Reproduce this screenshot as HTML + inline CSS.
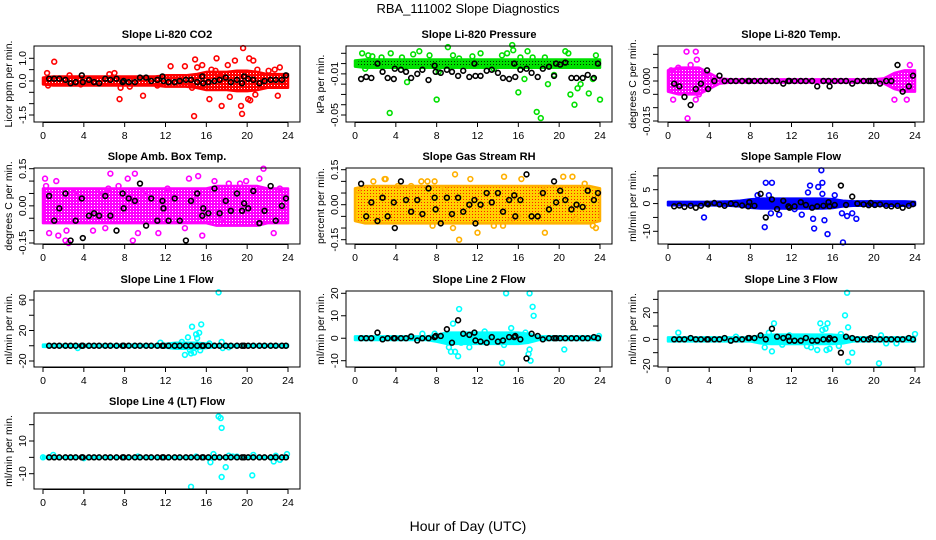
<!DOCTYPE html>
<html><head><meta charset="utf-8"><title>RBA_111002 Slope Diagnostics</title>
<style>html,body{margin:0;padding:0;background:#fff}svg{display:block;font-family:"Liberation Sans",Arial,sans-serif}</style>
</head><body>
<svg id="chart" width="936" height="540" viewBox="0 0 936 540">
<defs>
<pattern id="pt-red" width="3" height="3" patternUnits="userSpaceOnUse"><rect width="3" height="3" fill="#ff0000"/><rect x="1" y="1" width="1" height="1" fill="#ffffff"/></pattern>
<pattern id="pt-green" width="3" height="3" patternUnits="userSpaceOnUse"><rect width="3" height="3" fill="#00e000"/><rect x="1" y="1" width="1" height="1" fill="#003300"/></pattern>
<pattern id="pt-mag" width="3" height="3" patternUnits="userSpaceOnUse"><rect width="3" height="3" fill="#ff00ff"/><rect x="1" y="1" width="1" height="1" fill="#ffffff"/></pattern>
<pattern id="pt-rh" width="3" height="3" patternUnits="userSpaceOnUse"><rect width="3" height="3" fill="#ffd000"/><rect x="1" y="1" width="1" height="1" fill="#ff2000"/></pattern>
<pattern id="pt-blue" width="3" height="3" patternUnits="userSpaceOnUse"><rect width="3" height="3" fill="#0000ff"/></pattern>
<pattern id="pt-cyan" width="3" height="3" patternUnits="userSpaceOnUse"><rect width="3" height="3" fill="#00ffff"/></pattern>
</defs>
<text x="468" y="13" text-anchor="middle" font-size="13">RBA_111002  Slope Diagnostics</text>
<text x="468" y="531" text-anchor="middle" font-size="14">Hour of Day (UTC)</text>
</svg>
<script>
// shared hour positions of black (reference) points
const blackHours=[0.6,1.1,1.6,2.2,2.7,3.2,3.8,3.9,4.5,5.0,5.5,6.1,6.6,7.2,7.8,7.9,8.4,9.0,9.5,10.1,10.6,11.2,11.7,11.8,12.3,12.9,13.4,14.0,14.5,15.1,15.6,15.7,16.2,16.8,17.3,17.9,18.4,19.0,19.5,19.7,20.1,20.6,21.2,21.7,22.3,22.8,23.4,23.8];
const xTicks=[0,4,8,12,16,20,24];

// Panel 1 CO2
const co2Band=[0.15,0.2,0.2,0.2,0.2,0.2,0.2,0.2,0.2,0.2,0.2,0.2,0.25,0.25,0.25,0.3,0.4,0.4,0.4,0.45,0.45,0.4,0.3,0.3,0.3];
const co2OutX=[1.1,0.4,0.5,2.6,3.7,6.5,7.0,7.6,7.5,8.5,9.8,11.2,12.5,13.9,14.9,14.8,15.1,15.6,14.6,16.5,16.3,17.0,17.5,17.2,18.1,18.3,19.4,19.6,19.5,20.1,20.3,20.2,20.6,20.8,21.0,22.1,22.7,23.0,23.2,18.8,16.9];
const co2OutY=[0.85,0.35,-0.2,0.25,-0.15,0.3,0.35,-0.3,-0.8,-0.25,-0.65,-0.2,0.65,0.65,0.95,-1.55,0.6,0.7,-0.3,0.5,-0.8,1.0,-1.1,0.3,0.7,-0.7,-1.1,1.45,-1.45,-0.8,-0.85,1.0,0.9,-0.6,0.5,0.45,0.5,-0.65,0.6,0.9,0.45];
const co2Black=[0.1,0.1,0.1,0.05,-0.1,-0.05,0.25,-0.05,0.05,-0.05,-0.1,0.1,0.05,0.1,-0.05,0,-0.05,-0.05,0.15,0.15,0,0.05,0.2,0,-0.05,-0.05,0,0.05,0.05,-0.05,0.2,-0.1,-0.05,0,0.05,0.15,-0.05,0.05,-0.1,0.2,0.1,0.05,-0.1,0,0.05,0.05,0.05,0.25];
const co2Ticks=[1,0.5,0,-0.5,-1,-1.5];
const co2Labels=["1.0","","0.0","","","-1.5"];

// Panel 2 Pressure
const presBand=[0.003,0.004,0.004,0.004,0.004,0.004,0.004,0.004,0.004,0.004,0.004,0.004,0.004,0.004,0.004,0.004,0.004,0.004,0.004,0.004,0.004,0.004,0.004,0.004,0.004];
const presOutX=[0.7,1.0,1.3,1.7,2.6,3.5,3.4,4.6,5.1,5.7,6.3,7.3,8.0,8.2,9.1,9.6,10.2,11.5,12.3,13.6,14.4,14.9,15.4,15.5,16.0,16.2,16.6,16.9,17.4,17.8,18.2,18.6,18.9,19.5,20.6,21.1,21.5,21.8,22.1,22.9,23.3,24.0,20.9,23.6];
const presOutY=[0.01,-0.005,0.008,0.007,0.006,0.01,-0.048,0.006,-0.018,0.009,0.012,0.008,-0.035,-0.008,0.016,0.008,0.005,0.007,0.01,-0.005,0.008,0.01,0.018,0.013,-0.028,0.006,-0.015,0.012,0.006,-0.047,-0.053,0.006,-0.02,-0.011,0.012,-0.03,-0.04,-0.024,-0.02,-0.029,-0.015,-0.035,0.01,0.008];
const presBlack=[-0.015,-0.013,-0.014,0,-0.008,-0.014,-0.015,-0.005,-0.006,-0.008,-0.014,-0.01,-0.006,-0.016,-0.002,-0.008,-0.009,-0.006,-0.008,-0.012,-0.007,-0.013,0,-0.012,-0.012,-0.007,-0.006,-0.009,-0.014,-0.015,0,-0.013,-0.006,-0.005,-0.009,-0.013,-0.005,-0.003,-0.012,0,-0.001,0.001,-0.014,-0.014,-0.014,-0.011,-0.014,0];
const presTicks=[0.01,0,-0.01,-0.02,-0.03,-0.04,-0.05];
const presLabels=["","","-0.01","","","","-0.05"];

// Panel 3 Li-820 Temp
const ltBand=[0.004,0.005,0.005,0.005,0.003,0.001,0.0006,0.0006,0.0006,0.0006,0.0006,0.0006,0.0006,0.0006,0.0006,0.0006,0.0006,0.0006,0.0006,0.0006,0.0006,0.001,0.003,0.004,0.004];
const ltOutX=[1.8,2.7,2.8,1.9,0.5,2.7,3.5,2.2,0.3,22.0,23.2,23.5,3.0,1.0];
const ltOutY=[0.011,0.011,0.008,-0.014,-0.007,-0.007,0.002,0.006,0.004,-0.007,-0.007,0.006,-0.005,0.005];
const ltBlack=[-0.001,-0.002,-0.006,-0.009,-0.003,-0.001,0.004,-0.003,0,0.002,0,0,0,0,0,0,0,0,0,0,0,-0.001,0,0,0,0,0,0,-0.002,0,0,-0.002,0,0,0,-0.001,0,0,0,0,0,-0.001,0,0,0.006,-0.004,-0.002,0.002];
const ltTicks=[0.01,0.005,0,-0.005,-0.01,-0.015];
const ltLabels=["","","0.000","","","-0.015"];

// Panel 4 Amb Box Temp
const abBand=[0.07,0.07,0.07,0.07,0.07,0.07,0.07,0.07,0.07,0.07,0.07,0.07,0.07,0.07,0.07,0.07,0.07,0.08,0.08,0.08,0.08,0.08,0.07,0.07,0.07];
const abOutX=[0.2,0.3,1.3,0.6,1.5,2.2,2.5,2.3,3.2,5.4,6.4,6.6,7.4,8.3,9.0,9.3,8.8,9.8,11.3,12.2,14.3,15.2,15.6,16.8,17.6,18.2,19.3,19.9,21.2,21.6,22.6,23.2,13.9,4.9,6.1];
const abOutY=[0.11,0.08,0.1,-0.11,-0.12,-0.14,-0.15,-0.1,0.06,0.05,0.07,0.13,0.08,0.11,0.13,-0.11,-0.14,0.05,-0.11,0.07,0.11,0.12,-0.12,0.1,-0.05,0.09,0.09,0.1,0.11,0.15,-0.11,0.07,-0.09,-0.1,-0.09];
const abBlack=[0.04,-0.06,-0.01,0.05,-0.14,-0.06,0.03,-0.13,-0.04,-0.03,-0.04,0.04,-0.04,-0.1,0.05,-0.01,0.03,0.02,0.09,-0.08,0.03,-0.06,0.02,-0.01,-0.06,0.03,-0.06,-0.14,0.02,0.05,-0.04,-0.01,-0.03,0.07,-0.03,0.02,-0.02,0.05,-0.02,0.01,-0.01,0.06,-0.07,-0.02,0.08,-0.06,0,0.03];
const abTicks=[0.15,0.1,0.05,0,-0.05,-0.1,-0.15];
const abLabels=["0.15","","","0.00","","","-0.15"];

// Panel 5 Gas Stream RH
const rhBand=[0.07,0.08,0.08,0.08,0.08,0.08,0.08,0.08,0.08,0.08,0.08,0.08,0.08,0.08,0.08,0.08,0.08,0.08,0.08,0.08,0.08,0.08,0.08,0.08,0.07];
const rhOutX=[0.3,1.8,2.9,4.2,5.5,6.5,7.1,7.8,8.8,9.8,9.6,10.2,11.3,12.0,13.6,14.6,14.5,15.2,16.0,16.3,18.6,18.5,20.4,21.3,21.6,22.5,23.3,23.6,7.6,3.0];
const rhOutY=[0.06,0.1,0.11,0.08,0.08,0.1,0.1,0.1,0.07,0.13,-0.1,-0.15,0.11,-0.12,-0.09,0.12,-0.09,-0.07,-0.05,0.11,-0.12,0.06,0.12,0.12,-0.06,0.09,-0.09,-0.1,-0.09,0.11];
const rhBlack=[0.09,-0.05,0.01,-0.07,0.03,-0.05,0.01,-0.1,0.1,0.02,-0.03,0.02,-0.04,0.07,0.03,-0.02,-0.08,0.03,-0.04,0.03,-0.03,0,0.02,-0.08,0,0.05,0.01,0.05,-0.03,0.02,0.04,-0.05,0.02,0.13,-0.05,-0.05,0.05,-0.02,0.1,0.01,0.06,0.02,-0.02,0,-0.01,0.06,0.02,0.05];
const rhTicks=[0.15,0.1,0.05,0,-0.05,-0.1,-0.15];
const rhLabels=["0.15","","","0.00","","","-0.15"];

// Panel 6 Sample Flow
const sfBand=[0.6,0.6,0.6,0.6,0.6,0.7,0.8,1.0,1.5,1.8,1.8,1.8,1.8,1.8,1.8,1.8,1.6,1.0,0.8,0.8,0.8,0.8,0.8,0.8,0.6];
const sfOutX=[3.5,8.7,9.4,9.5,10.1,9.8,10.0,10.8,12.3,13.0,13.6,13.8,14.1,14.2,14.6,14.9,15.0,15.2,15.5,16.9,17.0,17.4,17.9,18.3,16.2,15.0];
const sfOutY=[-5,3,-8.5,7.5,7.5,3,-3.5,-4,-2,-4,4,6.5,-5.5,-9,6,12,7.5,-6,-11,-3.5,-14,-4.5,-3.5,-5.5,3,3.5];
const sfBlack=[-1,-0.7,-1.2,-0.8,-1.5,-0.8,0,-0.3,0.2,-0.3,-0.8,0,-0.3,-0.7,-1,0.5,-0.8,3.5,-5,1.5,-2,1,-1,-1.5,-1,0.5,-0.5,-1.5,-1,-0.8,0.5,-1,-0.5,6.5,-0.5,2.5,0,-0.3,-0.6,0.2,-0.5,-0.3,-0.8,-1,-0.8,-1.5,-0.8,-0.2];
const sfTicks=[10,5,0,-5,-10];
const sfLabels=["","5","0","","-10"];

// Panel 7 Line 1 Flow
const l1Band=[1.5,1.5,1.5,1.5,1.5,1.5,1.5,1.5,1.5,1.5,1.5,1.5,2.5,4,4,4,3,1.5,1.5,1.5,1.5,1.5,1.5,1.5,1.5];
const l1OutX=[3.4,11.5,13.9,14.4,14.5,14.8,14.2,14.6,15.0,15.3,15.5,15.4,16.3,17.2,17.5,17.6,18.2,15.1,13.6];
const l1OutY=[-3,4,-12,-6,-10,-9,11,25,15,17,28,-6,3,70,5,-3,-2,10,5];
const l1Black=[0,0,0,0,0,0,0,0,0,0,0,0,0,0,0,0,0,0,0,0,0,0,0,0,0,0,0,0,0,0,0,0,0,0,0,0,0,0,0,0,0,0,0,0,0,0,0,0];
const l1Ticks=[60,40,20,0,-20];
const l1Labels=["60","","20","","-20"];

// Panel 8 Line 2 Flow
const l2Band=[0.8,0.8,0.8,0.8,0.8,0.8,0.8,0.8,1.5,2.5,2.5,2.5,2.5,2.5,2.5,2.5,2.5,2,0.8,0.8,0.8,0.8,0.8,0.8,0.8];
const l2OutX=[6.6,7.8,9.2,9.4,9.6,9.8,10.1,10.2,10.4,11.2,12.7,14.4,14.8,14.6,15.3,16.7,17.0,17.1,17.2,17.1,17.4,17.5,20.5,23.9];
const l2OutY=[2,2,-4,-6,6.5,-6,-8,13,-2,-4,3,-11,20,-3,4.5,2.5,-7,-5,-10,20,14,10,-5,1];
const l2Black=[0,0,0,2.5,-0.5,0,0,0,0,0,0.8,-1,0,0,0.5,1,1,4,-2,8,2,1.5,2.5,-1,-1.5,-2,0.5,-1.5,-1,0.5,0.5,1,-0.5,-9,2,1,-0.5,0,0,0,0,0,0,0,0,0,0.5,0];
const l2Ticks=[20,10,0,-10];
const l2Labels=["20","10","0","-10"];

// Panel 9 Line 3 Flow
const l3Band=[1.5,1.5,1.5,1.5,1.5,1.5,1.5,1.5,1.5,3,3.5,3.5,3.5,3.5,3.5,3.5,3.5,3,1.5,1.5,1.5,1.5,1.5,1.5,1.5];
const l3OutX=[1.0,6.6,9.4,9.8,10.1,10.3,11.1,11.8,13.5,14.5,14.8,15.0,15.3,15.5,15.4,15.7,16.8,16.6,17.2,17.4,17.5,17.5,17.9,20.5,20.7,21.2,22.2,24.0,13.9];
const l3OutY=[5,2,-6,5,-9,12,-4,3,-5,-8,12,7,8,12,-8,-7,4,-5,18,35,9,-17,-10,-18,3,-3,-3,4,-6];
const l3Black=[0,0,0,1,0,0,0,0,0,0,1,-1,0,0,1,1,1,3,0,8,2,1,2,-1,-1,-1,1,-1,-1,0,0,1,0,-10,2,1,0,0,0,1,0,0,0,0,0,0,1,0];
const l3Ticks=[30,20,10,0,-10,-20];
const l3Labels=["","20","","0","","-20"];

// Panel 10 Line 4 Flow
const l4Band=[0.3,0.3,0.3,0.3,0.3,0.3,0.3,0.3,0.3,0.3,0.3,0.3,0.3,0.3,0.3,0.3,0.3,0.3,0.3,0.3,0.3,0.3,0.3,0.3,0.3];
const l4OutX=[0,1.0,4.0,9.3,14.5,16.4,16.7,17.2,17.4,17.5,17.5,17.9,18.2,20.5,20.6,22.6,22.8,23.2,23.9,19.0,15.0,18.6];
const l4OutY=[0,1.5,-0.5,0.5,-18,-3,2,25,24,18,-12,-6,1,-11,1.5,-2.5,1,-1.5,2,0.5,0.5,0.5];
const l4Black=[0,0,0,0,0,0,0,0,0,0,0,0,0,0,0,0,0,0,0,0,0,0,0,0,0,0,0,0,0,0,0,0,0,0,0,0,0,0,0,0,0,0,0,0,0,0,0,0];
const l4Ticks=[20,10,0,-10];
const l4Labels=["","10","","-10"];

const NS="http://www.w3.org/2000/svg";
const svg=document.getElementById('chart');
function mk(tag,attrs,parent){const e=document.createElementNS(NS,tag);for(const k in attrs)e.setAttribute(k,attrs[k]);(parent||svg).appendChild(e);return e;}

const colBox=[[34,300],[346,612],[658,924]];
const colX0=[43,355,668],colX24=[288,600,915];
const rowTop=[46,168,291,413];
const boxH=76;

const panels=[
 {key:'co2',title:'Slope Li-820 CO2',ylab:'Licor ppm per min.',c:0,r:0,color:'#ff0000',pat:'pt-red',a:[1.0,58.3],b:[-1.5,115],band:co2Band,ox:co2OutX,oy:co2OutY,bk:co2Black,ticks:co2Ticks,labels:co2Labels},
 {key:'pressure',title:'Slope Li-820 Pressure',ylab:'kPa per min.',c:1,r:0,color:'#00e000',pat:'pt-green',a:[0.01,53.3],b:[-0.05,115],band:presBand,ox:presOutX,oy:presOutY,bk:presBlack,ticks:presTicks,labels:presLabels},
 {key:'li820-temp',title:'Slope Li-820 Temp.',ylab:'degrees C per min.',c:2,r:0,color:'#ff00ff',pat:'pt-mag',a:[0,81],b:[-0.015,121],band:ltBand,ox:ltOutX,oy:ltOutY,bk:ltBlack,ticks:ltTicks,labels:ltLabels},
 {key:'amb-box-temp',title:'Slope Amb. Box Temp.',ylab:'degrees C per min.',c:0,r:1,color:'#ff00ff',pat:'pt-mag',a:[0.15,168.7],b:[-0.15,243],band:abBand,ox:abOutX,oy:abOutY,bk:abBlack,ticks:abTicks,labels:abLabels},
 {key:'gas-stream-rh',title:'Slope Gas Stream RH',ylab:'percent per min.',c:1,r:1,color:'#ffb000',pat:'pt-rh',a:[0.15,169.7],b:[-0.15,239.7],band:rhBand,ox:rhOutX,oy:rhOutY,bk:rhBlack,ticks:rhTicks,labels:rhLabels},
 {key:'sample-flow',title:'Slope Sample Flow',ylab:'ml/min per min.',c:2,r:1,color:'#0000ff',pat:'pt-blue',a:[5,189.7],b:[-10,231.3],band:sfBand,ox:sfOutX,oy:sfOutY,bk:sfBlack,ticks:sfTicks,labels:sfLabels},
 {key:'line1-flow',title:'Slope Line 1 Flow',ylab:'ml/min per min.',c:0,r:2,color:'#00ffff',pat:'pt-cyan',a:[60,300],b:[-20,361],band:l1Band,ox:l1OutX,oy:l1OutY,bk:l1Black,ticks:l1Ticks,labels:l1Labels},
 {key:'line2-flow',title:'Slope Line 2 Flow',ylab:'ml/min per min.',c:1,r:2,color:'#00ffff',pat:'pt-cyan',a:[20,293.3],b:[-10,360.7],band:l2Band,ox:l2OutX,oy:l2OutY,bk:l2Black,ticks:l2Ticks,labels:l2Labels},
 {key:'line3-flow',title:'Slope Line 3 Flow',ylab:'ml/min per min.',c:2,r:2,color:'#00ffff',pat:'pt-cyan',a:[20,312.7],b:[-20,366],band:l3Band,ox:l3OutX,oy:l3OutY,bk:l3Black,ticks:l3Ticks,labels:l3Labels},
 {key:'line4-flow',title:'Slope Line 4 (LT) Flow',ylab:'ml/min per min.',c:0,r:3,color:'#00ffff',pat:'pt-cyan',a:[10,441],b:[-10,473.7],band:l4Band,ox:l4OutX,oy:l4OutY,bk:l4Black,ticks:l4Ticks,labels:l4Labels}
];

panels.forEach(p=>{
 const g=mk('g',{});
 
 
 const L=colBox[p.c][0],R=colBox[p.c][1],T=rowTop[p.r],B=T+boxH;
 const xs=h=>colX0[p.c]+(colX24[p.c]-colX0[p.c])*h/24;
 const ys=v=>p.a[1]+(v-p.a[0])*(p.b[1]-p.a[1])/(p.b[0]-p.a[0]);
 const cl=mk('clipPath',{id:'clip-'+p.key},g);mk('rect',{x:L,y:T,width:R-L,height:B-T},cl);
 const t=mk('text',{x:(L+R)/2,y:T-8,'text-anchor':'middle','font-size':'11','font-weight':'bold'},g);t.textContent=p.title;
 
 
 const yl=mk('text',{x:0,y:0,'text-anchor':'middle','font-size':'10.5',transform:`translate(${L-22},${(T+B)/2}) rotate(-90)`},g);yl.textContent=p.ylab;
 
 
 // band
 const up=[],dn=[];
 for(let i=0;i<25;i++){up.push(xs(i)+','+ys(p.band[i]));dn.unshift(xs(i)+','+ys(-p.band[i]));}
 const band=mk('polygon',{points:up.concat(dn).join(' '),fill:'url(#'+p.pat+')',stroke:p.color,'stroke-width':'2.5','stroke-linejoin':'round','clip-path':'url(#clip-'+p.key+')'},g);
 
 
 // outliers
 for(let i=0;i<p.ox.length;i++){
  const c=mk('circle',{cx:xs(p.ox[i]),cy:ys(p.oy[i]),r:2.4,fill:'none',stroke:p.color,'stroke-width':'1.6'},g);
  
  
 }
 // black points
 for(let i=0;i<p.bk.length;i++){
  const c=mk('circle',{cx:xs(blackHours[i]),cy:ys(p.bk[i]),r:2.4,fill:'none',stroke:'#000','stroke-width':'1.6'},g);
  
  
 }
 // box
 const bx=mk('rect',{x:L,y:T,width:R-L,height:B-T,fill:'none',stroke:'#000','stroke-width':'1'},g);
 
 
 // x axis
 mk('line',{x1:xs(0),x2:xs(24),y1:B+0.5,y2:B+0.5,stroke:'#000'},g);
 xTicks.forEach(h=>{
  mk('line',{x1:xs(h),x2:xs(h),y1:B,y2:B+5,stroke:'#000'},g);
  const tl=mk('text',{x:xs(h),y:B+17,'text-anchor':'middle','font-size':'10.5'},g);tl.textContent=h;
  
  
 });
 // y axis
 p.ticks.forEach((v,i)=>{
  const y=ys(v);
  mk('line',{x1:L-5,x2:L,y1:y,y2:y,stroke:'#000'},g);
  if(p.labels[i]){
   const tl=mk('text',{x:0,y:0,'text-anchor':'middle','font-size':'10.5',transform:`translate(${L-8},${y}) rotate(-90)`},g);tl.textContent=p.labels[i];
   
   
  }
 });
});
</script>
</body></html>
